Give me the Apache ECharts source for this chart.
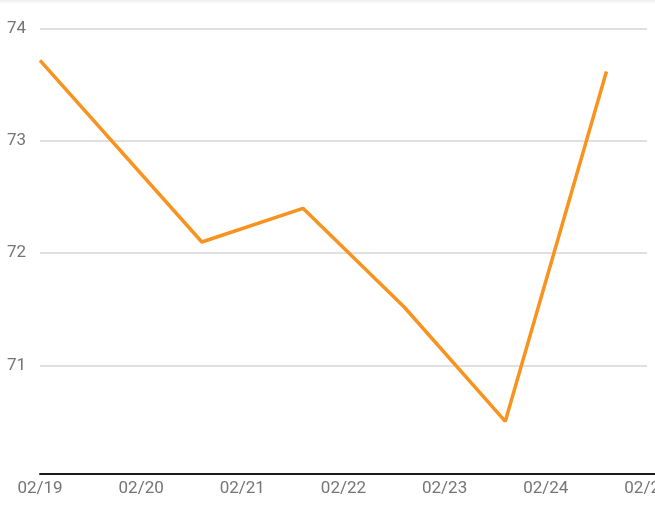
<!DOCTYPE html>
<html>
<head>
<meta charset="utf-8">
<script src="https://cdn.jsdelivr.net/npm/echarts@6/dist/echarts.min.js"></script>
<style>html,body{margin:0;padding:0;background:#fff}#c{width:655px;height:518px}</style>
</head>
<body>
<div id="c"></div>
<script>
// day offsets from 02/19 00:00
var xDays = [0, 1.6, 2.6, 3.6, 4.6, 5.6];
var values = [73.72, 72.1, 72.4, 71.52, 70.5, 73.62];
var xTickLabels = ['02/19', '02/20', '02/21', '02/22', '02/23', '02/24', '02/25'];
var yTickValues = [71, 72, 73, 74];

var X_MIN = 0, X_MAX = 6.08, Y_MIN = 70.03, Y_MAX = 74;
var labelColor = '#757575';
var fontFamily = 'Roboto';

var chart = echarts.init(document.getElementById('c'), null, {renderer: 'canvas'});
chart.setOption({
  animation: false,
  backgroundColor: '#fff',
  graphic: [{
    type: 'rect', left: 0, top: 0, shape: {width: 655, height: 4},
    style: {fill: new echarts.graphic.LinearGradient(0, 0, 0, 1, [
      {offset: 0, color: 'rgba(0,0,0,0.07)'}, {offset: 1, color: 'rgba(0,0,0,0)'}])},
    silent: true
  }],
  grid: [
    {left: 40, right: 0, top: 29, bottom: 44, containLabel: false, outerBoundsMode: 'none'},
    {left: 40, right: 8, top: 29, bottom: 44, containLabel: false, outerBoundsMode: 'none'}
  ],
  xAxis: [{
    type: 'value', gridIndex: 0, min: X_MIN, max: X_MAX, interval: 1,
    axisLine: {show: true, lineStyle: {color: '#1a1a1a', width: 2}},
    axisTick: {show: false},
    splitLine: {show: false},
    axisLabel: {
      color: labelColor, fontSize: 17, fontFamily: fontFamily, margin: 6,
      hideOverlap: false,
      formatter: function (v) { var i = Math.round(v); return Math.abs(v - i) < 1e-6 ? (xTickLabels[i] || '') : ''; }
    }
  }, {
    type: 'value', gridIndex: 1, min: X_MIN, max: X_MAX, show: false
  }],
  yAxis: [{
    type: 'value', gridIndex: 0, min: Y_MIN, max: Y_MAX,
    axisLine: {show: false}, axisTick: {show: false}, axisLabel: {show: false},
    splitLine: {show: false}
  }, {
    type: 'value', gridIndex: 1, min: Y_MIN, max: Y_MAX,
    axisLine: {show: false},
    axisTick: {show: false, customValues: yTickValues},
    axisLabel: {color: labelColor, fontSize: 17, fontFamily: fontFamily, margin: 14, customValues: yTickValues},
    splitLine: {show: true, lineStyle: {color: '#d6d6d6', width: 1.5}}
  }],
  series: [{
    type: 'line', xAxisIndex: 0, yAxisIndex: 0,
    data: xDays.map(function (d, i) { return [d, values[i]]; }),
    symbol: 'none',
    lineStyle: {color: '#F7931E', width: 3.5},
    z: 5
  }]
});
</script>
</body>
</html>
